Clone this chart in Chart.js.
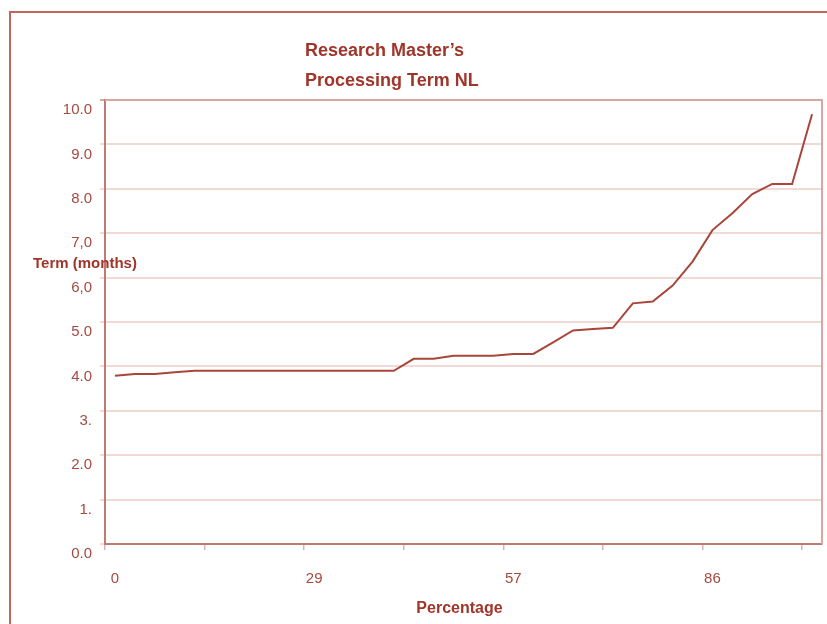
<!DOCTYPE html>
<html>
<head>
<meta charset="utf-8">
<script src="https://cdn.jsdelivr.net/npm/chart.js@4/dist/chart.umd.min.js"></script>
<style>
  html, body { margin: 0; padding: 0; background: #ffffff; }
  #wrap { width: 827px; height: 624px; position: relative; }
</style>
</head>
<body>
<div id="wrap"><canvas id="c" width="827" height="624"></canvas></div>
<script>
// ---- data ----
const percentLabels = [0, 3, 6, 9, 11, 14, 17, 20, 23, 26, 29, 31, 34, 37, 40, 43, 46, 49,
                       51, 54, 57, 60, 63, 66, 69, 71, 74, 77, 80, 83, 86, 89, 91, 94, 97, 100];
const termMonths = [3.79, 3.83, 3.83, 3.87, 3.90, 3.90, 3.90, 3.90, 3.90, 3.90, 3.90, 3.90,
                    3.90, 3.90, 3.90, 4.17, 4.17, 4.24, 4.24, 4.24, 4.28, 4.28, 4.54, 4.81,
                    4.84, 4.87, 5.42, 5.46, 5.82, 6.36, 7.07, 7.45, 7.88, 8.11, 8.11, 9.68];
const yTickLabels = ["0.0", "1.", "2.0", "3.", "4.0", "5.0", "6,0", "7,0", "8.0", "9.0", "10.0"];
const titleLines = ["Research Master\u2019s", "Processing Term NL"];
const yTitle = "Term (months)";
const xTitle = "Percentage";

// ---- styles ----
const FONT = '"Liberation Sans", Arial, Helvetica, sans-serif';
const TITLE_COLOR = '#a0352a';
const TICK_COLOR = '#a64a40';
const LINE_COLOR = '#a8463a';
const GRID_COLOR = '#f1dad6';
const AXIS_COLOR = '#c27a70';
const TOP_RIGHT_BORDER = '#d8a7a0';
const FRAME_COLOR = '#c2665c';

const decorPlugin = {
  id: 'decor',
  beforeDraw(chart) {
    const ctx = chart.ctx;
    ctx.save();
    ctx.fillStyle = '#ffffff';
    ctx.fillRect(0, 0, chart.width, chart.height);
    ctx.strokeStyle = FRAME_COLOR;
    ctx.lineWidth = 2;
    ctx.beginPath();
    ctx.moveTo(chart.width + 5, 12);
    ctx.lineTo(10, 12);
    ctx.lineTo(10, chart.height + 5);
    ctx.stroke();
    ctx.restore();
  },
  afterDraw(chart) {
    const ctx = chart.ctx;
    const a = chart.chartArea;
    ctx.save();
    // top and right plot border
    ctx.strokeStyle = TOP_RIGHT_BORDER;
    ctx.lineWidth = 2;
    ctx.beginPath();
    ctx.moveTo(a.left, a.top);
    ctx.lineTo(a.right, a.top);
    ctx.lineTo(a.right, a.bottom);
    ctx.stroke();
    // titles
    ctx.fillStyle = TITLE_COLOR;
    ctx.textBaseline = 'alphabetic';
    ctx.textAlign = 'left';
    ctx.font = 'bold 18px ' + FONT;
    ctx.fillText(titleLines[0], 305, 56);
    ctx.fillText(titleLines[1], 305, 86);
    ctx.font = 'bold 15px ' + FONT;
    ctx.fillText(yTitle, 33, 268);
    ctx.textAlign = 'center';
    ctx.font = 'bold 16px ' + FONT;
    ctx.fillText(xTitle, 459.5, 613);
    ctx.restore();
  }
};

new Chart(document.getElementById('c'), {
  type: 'line',
  data: {
    labels: percentLabels,
    datasets: [{
      data: termMonths,
      borderColor: LINE_COLOR,
      borderWidth: 2,
      pointRadius: 0,
      tension: 0,
      fill: false
    }]
  },
  options: {
    responsive: false,
    animation: false,
    devicePixelRatio: 1,
    layout: { padding: { left: 0, right: 5, top: 100, bottom: 0 } },
    plugins: { legend: { display: false }, tooltip: { enabled: false }, title: { display: false } },
    scales: {
      x: {
        type: 'category',
        offset: true,
        afterFit(scale) { scale.height = 80; scale.paddingLeft = 0; scale.paddingRight = 0; },
        grid: {
          display: true,
          offset: true,
          drawOnChartArea: false,
          drawTicks: true,
          tickLength: 6,
          lineWidth: 1.5,
          color: (c) => (c.index % 5 === 0 ? '#dcb3ad' : 'rgba(0,0,0,0)')
        },
        border: { display: true, color: AXIS_COLOR, width: 2 },
        ticks: {
          autoSkip: false,
          maxRotation: 0,
          minRotation: 0,
          padding: 20,
          color: TICK_COLOR,
          font: { family: FONT, size: 15 },
          callback(value, index) { return index % 10 === 0 ? String(percentLabels[index]) : ''; }
        }
      },
      y: {
        min: 0,
        max: 10,
        afterFit(scale) { scale.width = 105; },
        grid: {
          drawTicks: true,
          tickLength: 5,
          lineWidth: 2,
          color: (c) => (c.tick && c.tick.value === 10 ? TOP_RIGHT_BORDER : GRID_COLOR)
        },
        border: { display: true, color: AXIS_COLOR, width: 2 },
        ticks: {
          stepSize: 1,
          padding: 8,
          labelOffset: 10,
          color: TICK_COLOR,
          font: { family: FONT, size: 15 },
          callback(value) { return yTickLabels[Math.round(value)]; }
        }
      }
    }
  },
  plugins: [decorPlugin]
});
</script>
</body>
</html>
